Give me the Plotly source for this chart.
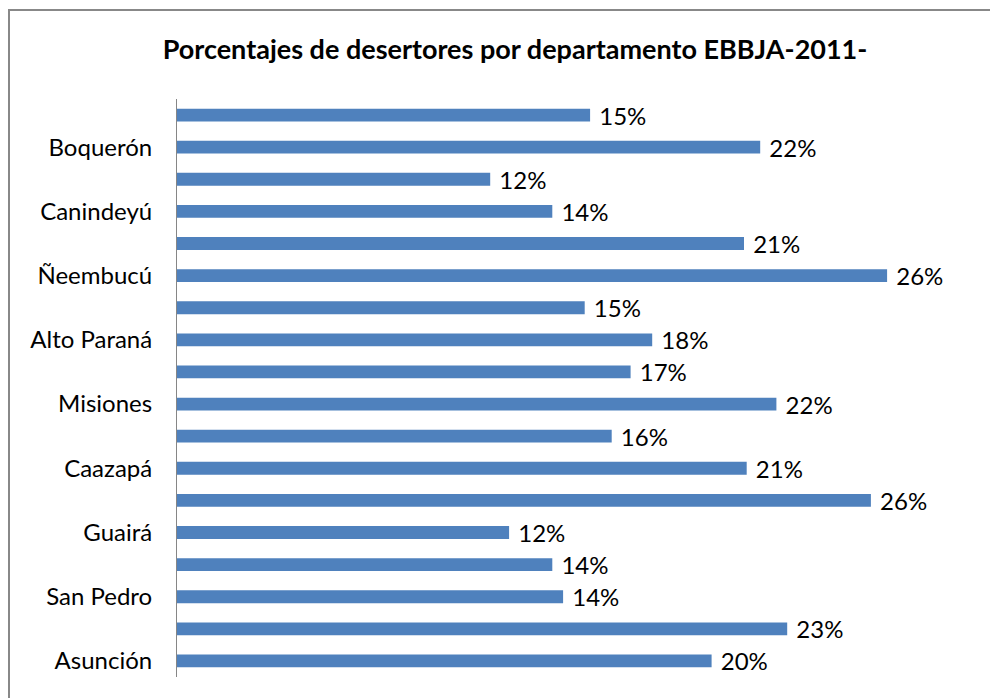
import plotly.graph_objects as go

# departments, bottom to top as they appear on the chart
departamentos = [
    "Asunción", "Concepción", "San Pedro", "Cordillera", "Guairá", "Caaguazú",
    "Caazapá", "Itapúa", "Misiones", "Paraguarí", "Alto Paraná", "Central",
    "Ñeembucú", "Amambay", "Canindeyú", "Presidente Hayes", "Boquerón", "Alto Paraguay",
]
# percentage of dropouts
porcentajes = [
    19.8, 22.6, 14.3, 13.9, 12.3, 25.7,
    21.1, 16.1, 22.2, 16.8, 17.6, 15.1,
    26.3, 21.0, 13.9, 11.6, 21.6, 15.3,
]
# only every other category gets a label on the axis
etiquetas_eje = departamentos[::2]

fig = go.Figure()

fig.add_trace(go.Bar(
    x=porcentajes,
    y=departamentos,
    orientation="h",
    marker_color="#4F81BD",
    marker_line_width=0,
    texttemplate="\u00a0%{x:.0f}%",
    textposition="outside",
    constraintext="none",
    textfont=dict(family="Lato", size=24, color="#000000"),
    cliponaxis=False,
    hovertemplate="%{y}: %{x:.0f}%<extra></extra>",
))

# the page body has an 8px margin, so the figure is 8px smaller and margins shifted
fig.update_layout(
    width=990,
    height=690,
    margin=dict(l=169, r=38, t=91, b=21),
    paper_bgcolor="white",
    plot_bgcolor="white",
    showlegend=False,
    bargap=0.6,
    title=dict(
        text="<b>Porcentajes de desertores por departamento EBBJA-2011-</b>",
        font=dict(family="Lato", size=27, color="#000000"),
        x=507 / 990,
        xanchor="center",
        y=1 - 42 / 690,
        yanchor="middle",
    ),
    xaxis=dict(
        range=[0, 29],
        visible=False,
        showgrid=False,
        zeroline=False,
    ),
    yaxis=dict(
        type="category",
        categoryorder="array",
        categoryarray=departamentos,
        tickmode="array",
        tickvals=etiquetas_eje,
        ticktext=etiquetas_eje,
        tickfont=dict(family="Lato", size=24, color="#000000"),
        ticks="",
        ticklabelstandoff=19,
        showline=True,
        linecolor="#868686",
        linewidth=1,
        showgrid=False,
        zeroline=False,
    ),
    # chart border, cut off on the right and bottom like the reference
    shapes=[dict(
        type="rect",
        xref="paper", yref="paper",
        x0=-168 / 783, x1=1.2,
        y0=-0.2, y1=1 + 89 / 578,
        line=dict(color="#888888", width=2),
        fillcolor="rgba(0,0,0,0)",
        layer="below",
    )],
)

fig.write_html("out.html")
